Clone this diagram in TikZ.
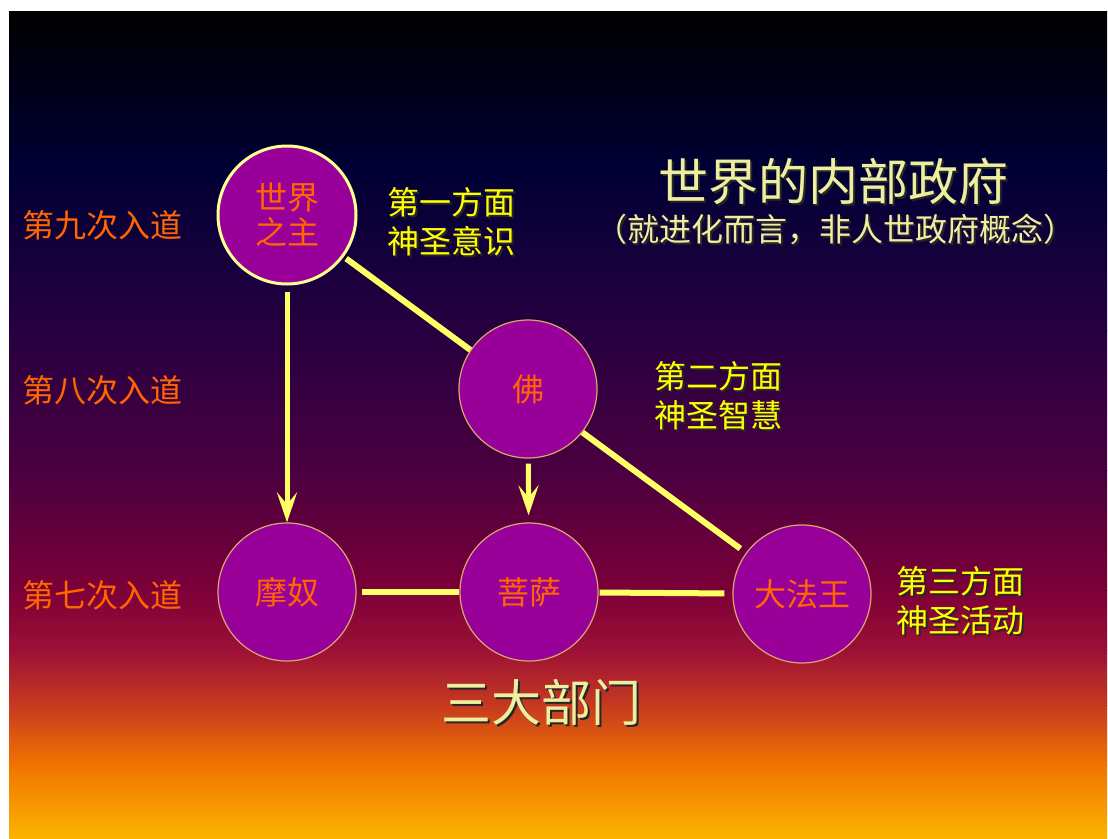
\documentclass[tikz,border=0pt]{standalone}
\usepackage{fontspec}
\setmainfont{Noto Sans CJK SC}
\usetikzlibrary{arrows.meta}

\definecolor{bgA}{HTML}{000000}
\definecolor{bgB}{HTML}{000035}
\definecolor{bgC}{HTML}{270040}
\definecolor{bgD}{HTML}{4A0040}
\definecolor{bgE}{HTML}{7C0038}
\definecolor{bgF}{HTML}{9C1036}
\definecolor{bgG}{HTML}{C63A20}
\definecolor{bgH}{HTML}{F07400}
\definecolor{bgI}{HTML}{FCB400}
\definecolor{orbfill}{HTML}{990099}
\definecolor{orbedge}{HTML}{D4A96A}
\definecolor{rayyellow}{HTML}{FFFF66}
\definecolor{nameorange}{HTML}{FF6600}
\definecolor{aspectyellow}{HTML}{FFFF00}
\definecolor{titlekhaki}{HTML}{EEEEA0}

\newcommand\shadowed[1]{\leavevmode\rlap{\kern2pt\raisebox{-2pt}{\textcolor{black!85}{#1}}}#1}

\tikzset{
    orb/.style={circle, draw=orbedge, line width=1.2pt, fill=orbfill, minimum size=138pt, inner sep=0pt,
        text=nameorange, font=\fontsize{32}{35}\selectfont, align=center},
    ray/.style={draw=rayyellow, line width=6pt},
    descent/.style={draw=rayyellow, line width=5pt, -{Stealth[length=30pt, width=20pt, inset=12pt]}},
    initiation/.style={text=nameorange, font=\fontsize{32}{38}\selectfont, inner sep=0pt},
    aspect/.style={text=aspectyellow, font=\fontsize{32}{39}\selectfont, align=left, anchor=west, inner sep=0pt},
    heading/.style={text=titlekhaki, inner sep=0pt}
}

\begin{document}
\begin{tikzpicture}[x=1pt, y=-1pt]

    % Page and background
    \useasboundingbox (0,0) rectangle (1108,838);
    \fill[white] (0,0) rectangle (1108,838);
    \shade[top color=bgA, bottom color=bgB] (9,11) rectangle (1107,170);
    \shade[top color=bgB, bottom color=bgC] (9,170) rectangle (1107,330);
    \shade[top color=bgC, bottom color=bgD] (9,330) rectangle (1107,470);
    \shade[top color=bgD, bottom color=bgE] (9,470) rectangle (1107,590);
    \shade[top color=bgE, bottom color=bgF] (9,590) rectangle (1107,650);
    \shade[top color=bgF, bottom color=bgG] (9,650) rectangle (1107,705);
    \shade[top color=bgG, bottom color=bgH] (9,705) rectangle (1107,765);
    \shade[top color=bgH, bottom color=bgI] (9,765) rectangle (1107,838);

    % The departments
    \node[orb, draw=rayyellow!70, line width=3pt] (lord) at (287,215) {\raisebox{-4pt}{世界}\\\raisebox{-4pt}{之主}};
    \node[orb] (manu) at (287,592) {摩奴};
    \node[orb] (bodhi) at (529,592) {菩萨};
    \node[orb] (mahachohan) at (802,594) {大法王};

    % Lines between them (the Buddha sits on top of the long one)
    \draw[ray, shorten <=3pt, shorten >=7pt] (lord) -- (mahachohan);
    \node[orb] (buddha) at (528,389) {佛};
    \draw[descent, shorten <=6pt] (lord) -- (manu);
    \draw[descent, shorten <=5pt, shorten >=7pt] (buddha) -- (bodhi);
    \draw[ray, shorten <=5pt] (manu) -- (bodhi);
    \draw[ray, shorten <=1pt, shorten >=8pt] (bodhi) -- (mahachohan);

    % Initiation levels on the left
    \node[initiation] (ninth) at (103,225) {第九次入道};
    \node[initiation] (eighth) at (103,390) {第八次入道};
    \node[initiation] (seventh) at (103,595) {第七次入道};

    % Aspects on the right
    \node[aspect] (first) at (387,223) {\shadowed{第一方面}\\\shadowed{神圣意识}};
    \node[aspect] (second) at (654,397) {\shadowed{第二方面}\\\shadowed{神圣智慧}};
    \node[aspect] (third) at (896,602) {\shadowed{第三方面}\\\shadowed{神圣活动}};

    % Titles
    \node[heading, font=\fontsize{50}{56}\selectfont] (title) at (833,182) {\shadowed{世界的内部政府}};
    \node[heading, font=\fontsize{32}{36}\selectfont] (subtitle) at (835,230) {\shadowed{（就进化而言，非人世政府概念）}};
    \node[heading, font=\fontsize{50}{56}\selectfont] (three) at (541,703) {\shadowed{三大部门}};

\end{tikzpicture}
\end{document}
